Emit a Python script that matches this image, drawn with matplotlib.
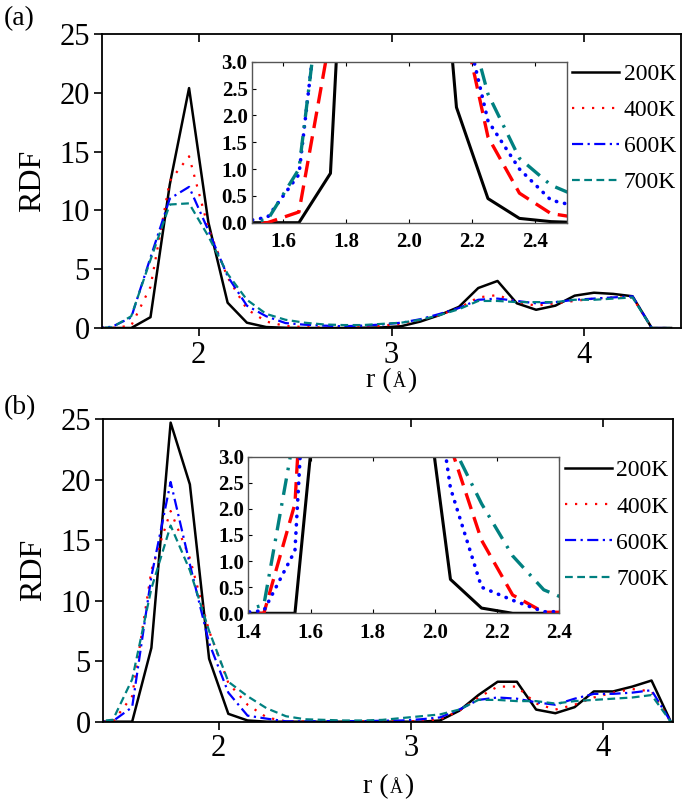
import matplotlib
matplotlib.use("Agg")
import matplotlib.pyplot as plt
from matplotlib.offsetbox import TextArea, HPacker, AnnotationBbox

plt.rcParams['font.family'] = ['Liberation Serif', 'DejaVu Serif']

# ---------------- data ----------------
labels = ['200K', '400K', '600K', '700K']

r_a = [1.45, 1.55, 1.65, 1.75, 1.85, 1.95, 2.05, 2.15, 2.25, 2.35, 2.45, 2.55, 2.65, 2.75, 2.85, 2.95,
       3.05, 3.15, 3.25, 3.35, 3.45, 3.55, 3.65, 3.75, 3.85, 3.95, 4.05, 4.15, 4.25, 4.35, 4.45]
a200 = [0, 0, 0, 0.92, 12.2, 20.4, 9.0, 2.15, 0.45, 0.08, 0.02, 0, 0, 0, 0.02, 0.05,
        0.15, 0.55, 1.1, 1.8, 3.4, 4.0, 2.1, 1.55, 1.9, 2.75, 3.0, 2.9, 2.7, 0, 0]
a400 = [0, 0, 0.2, 3.5, 12.5, 14.6, 8.5, 4.3, 1.6, 0.55, 0.17, 0.08, 0.05, 0.05, 0.1, 0.2,
        0.35, 0.7, 1.1, 1.7, 2.6, 2.8, 2.2, 1.9, 2.1, 2.3, 2.5, 2.6, 2.6, 0, 0]
a600 = [0, 0.1, 0.9, 6.0, 11.0, 12.0, 8.3, 4.4, 1.9, 1.0, 0.42, 0.28, 0.2, 0.15, 0.2, 0.3,
        0.45, 0.75, 1.2, 1.7, 2.4, 2.5, 2.3, 2.1, 2.2, 2.4, 2.5, 2.6, 2.7, 0, 0]
a700 = [0, 0.05, 1.0, 5.8, 10.5, 10.6, 7.8, 4.6, 2.4, 1.2, 0.7, 0.45, 0.3, 0.25, 0.25, 0.35,
        0.45, 0.7, 1.1, 1.6, 2.3, 2.3, 2.2, 2.2, 2.2, 2.4, 2.4, 2.5, 2.6, 0, 0]

r_b = [1.35, 1.45, 1.55, 1.65, 1.75, 1.85, 1.95, 2.05, 2.15, 2.25, 2.35, 2.45, 2.55, 2.65, 2.75, 2.85,
       2.95, 3.05, 3.15, 3.25, 3.35, 3.45, 3.55, 3.65, 3.75, 3.85, 3.95, 4.05, 4.15, 4.25, 4.35]
b200 = [0, 0, 0, 6.1, 24.7, 19.6, 5.2, 0.65, 0.1, 0, 0, 0, 0, 0, 0, 0,
        0, 0, 0.1, 0.9, 2.2, 3.3, 3.3, 1.0, 0.7, 1.2, 2.5, 2.5, 2.9, 3.4, 0]
b400 = [0, 0, 2.1, 12.5, 17.4, 13.5, 7.5, 3.2, 1.4, 0.35, 0.02, 0.02, 0.02, 0.03, 0.03, 0.03,
        0.03, 0.05, 0.2, 0.9, 2.0, 2.9, 2.9, 1.5, 1.0, 1.4, 2.0, 2.4, 2.7, 2.5, 0]
b600 = [0, 0.05, 1.2, 12.0, 19.8, 13.0, 6.5, 2.4, 0.5, 0.25, 0.03, 0.03, 0.05, 0.05, 0.05, 0.08,
        0.1, 0.2, 0.35, 1.0, 1.8, 2.0, 1.9, 1.6, 1.4, 1.9, 2.3, 2.3, 2.4, 2.6, 0]
b700 = [0, 0.16, 3.5, 11.0, 16.2, 12.5, 7.5, 3.3, 2.1, 1.1, 0.45, 0.2, 0.15, 0.1, 0.1, 0.15,
        0.3, 0.45, 0.6, 1.0, 1.8, 1.8, 1.7, 1.7, 1.5, 1.7, 1.8, 1.9, 2.0, 2.2, 0]

main_yticks = [0, 5, 10, 15, 20, 25]
main_xticks = [2, 3, 4]
inset_yticks = [0.0, 0.5, 1.0, 1.5, 2.0, 2.5, 3.0]

# ---------------- styles ----------------
colors = ['black', '#FF0000', '#0000FF', '#008080']
main_styles = [dict(ls='-', lw=1.8),
               dict(ls=(0, (1, 3.5)), lw=1.6),
               dict(ls=(0, (5, 2, 1, 2)), lw=1.6),
               dict(ls=(0, (3.5, 2)), lw=1.6)]
inset_styles = [dict(ls='-', lw=2.2),
                dict(ls=(0, (5, 2.5)), lw=2.4),
                dict(ls=(0, (0.1, 2.2)), lw=2.6, dash_capstyle='round'),
                dict(ls=(0, (5, 2.5, 0.8, 2.5)), lw=2.4)]

W, H = 685, 806
fig = plt.figure(figsize=(W / 100, H / 100), dpi=100)


def fbox(l, r, t, b):
    return [l / W, 1 - b / H, (r - l) / W, (b - t) / H]


def xlabel_box(ax, yfrac):
    parts = [TextArea('r (', textprops=dict(fontsize=20)),
             TextArea('Å', textprops=dict(fontsize=13)),
             TextArea(')', textprops=dict(fontsize=20))]
    pack = HPacker(children=parts, align='baseline', pad=0, sep=1)
    ab = AnnotationBbox(pack, (0.5, yfrac), xycoords='axes fraction', frameon=False,
                        box_alignment=(0.5, 0.5), annotation_clip=False)
    ax.add_artist(ab)


def make_panel(box, inset_box, xs, series, xlim, inset_xlim, inset_xticks, tag, tag_y,
               leg_anchor, xlab_y):
    ax = fig.add_axes(fbox(*box))
    for y, c, st, lab in zip(series, colors, main_styles, labels):
        ax.plot(xs, y, color=c, label=lab, **st)
    ax.set_xlim(*xlim)
    ax.set_ylim(0, 25)
    ax.set_yticks(main_yticks)
    ax.set_xticks(main_xticks)
    ax.tick_params(axis='both', labelsize=22, width=1.2, length=6, direction='out', pad=3)
    for s in ax.spines.values():
        s.set_linewidth(1.3)
    ax.set_ylabel('RDF', fontsize=23, labelpad=9)
    for t in ax.xaxis.get_major_ticks():
        t.tick2line.set_visible(True)
        t.tick2line.set_marker(3)
        t.tick2line.set_markersize(6)
        t.tick2line.set_markeredgewidth(1.2)
    xlabel_box(ax, xlab_y)
    ax.legend(loc='upper left', bbox_to_anchor=leg_anchor, frameon=False, fontsize=17,
              handlelength=2.0, handletextpad=0.2, labelspacing=0.62, borderpad=0,
              borderaxespad=0)
    fig.text(4 / W, 1 - tag_y / H, tag, fontsize=20, va='center', ha='left')

    ins = fig.add_axes(fbox(*inset_box))
    for y, c, st in zip(series, colors, inset_styles):
        ins.plot(xs, y, color=c, **st)
    ins.set_xlim(*inset_xlim)
    ins.set_ylim(0, 3)
    ins.set_xticks(inset_xticks)
    ins.set_yticks(inset_yticks)
    ins.set_xticklabels([f'{v:.1f}' for v in inset_xticks])
    ins.set_yticklabels([f'{v:.1f}' for v in inset_yticks])
    ins.tick_params(axis='both', labelsize=15, direction='in', length=3, width=0.8, top=True)
    ins.tick_params(axis='x', pad=7)
    ins.tick_params(axis='y', pad=3)
    for lab in ins.get_xticklabels() + ins.get_yticklabels():
        lab.set_fontweight('bold')
    for s in ins.spines.values():
        s.set_linewidth(1.0)
        s.set_color('#555555')
    return ax, ins


make_panel((102.3, 680.7, 34, 328), (251.7, 566.7, 61.7, 222.7), r_a, [a200, a400, a600, a700],
           (1.5, 4.5), (1.5, 2.5), [1.6, 1.8, 2.0, 2.2, 2.4], '(a)', 19, (0.812, 0.90), -0.18)
make_panel((103.3, 672.7, 419, 721.7), (248.3, 559.3, 456.7, 613.3), r_b, [b200, b400, b600, b700],
           (1.4, 4.36), (1.4, 2.4), [1.4, 1.6, 1.8, 2.0, 2.2, 2.4], '(b)', 408, (0.81, 0.865), -0.215)

fig.savefig('out.png', dpi=100)
